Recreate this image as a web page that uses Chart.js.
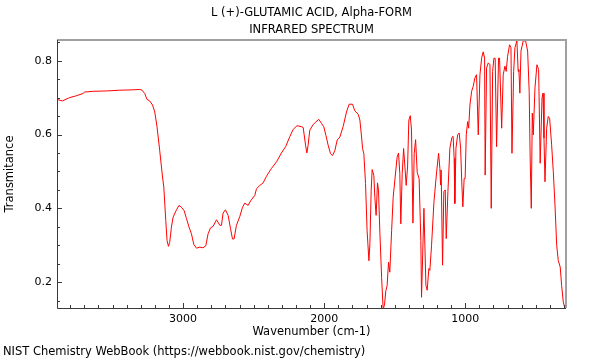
<!DOCTYPE html>
<html><head><meta charset="utf-8">
<script src="https://cdn.jsdelivr.net/npm/chart.js@4/dist/chart.umd.min.js"></script>
<style>html,body{margin:0;padding:0;background:#fff}#wrap{width:600px;height:360px;position:relative}</style>
</head><body><div id="wrap"><canvas id="c" width="600" height="360"></canvas></div>
<script>
const wavenumbers = [
3894,3856,3804,3756,3710,3698,3639,3544,3449,3355,3307,3291,3272,3256,3237,3217,3201,3185,3166,3146,
3137,3123,3114,3104,3095,3083,3071,3047,3029,3012,2993,2976,2958,2941,2924,2905,2882,2859,2839,2823,
2806,2788,2763,2740,2728,2717,2700,2681,2664,2650,2639,2622,2598,
2579,2563,2539,2522,2492,2480,2456,2433,2409,2374,2338,2303,2272,2244,2220,2192,2161,2149,2132,2123,
2114,2102,2078,2059,2038,2019,2003,1988,1972,1955,1941,1924,1908,1889,
1866,1842,1823,1799,1783,1759,1747,1735,1728,1719,1707,1696,1683,1676,1667,1660,1648,1641,1632,1622,
1615,1605,1593,1582,1572,1563,1554,1544,1535,1522,1511,1497,1483,1473,1464,1457,1447,1437,1426,1419,
1409,1400,1390,1381,1371,1362,1352,1341,1327,
1315,1310,1293,1279,1270,1258,1251,1239,1222,1203,1189,1180,1175,1171,1161,1152,1142,1135,1123,1109,
1095,1086,1079,1074,1066,1054,1043,1033,1024,1017,1008,1001,993,983,976,967,955,944,932,920,
908,896,884,873,863,859,849,837,825,816,806,797,788,778,764,
757,742,731,719,710,700,686,676,669,657,648,634,625,620,613,605,589,572,558,547,
540,532,525,518,506,492,480,469,456,449,442,435,423,412,402,388,376,364,352,341,
327,317,305,293,286
];
const transmittance = [
0.695,0.691,0.700,0.705,0.711,0.715,0.717,0.718,0.720,0.721,0.722,0.720,0.711,0.695,0.691,0.680,0.661,0.621,0.557,0.485,
0.458,0.367,0.313,0.297,0.308,0.349,0.376,0.396,0.408,0.403,0.394,0.372,0.349,0.331,0.302,0.292,0.295,0.293,0.299,0.331,
0.347,0.351,0.369,0.354,0.354,0.387,0.396,0.381,0.345,0.317,0.317,0.354,0.378,
0.403,0.414,0.408,0.420,0.435,0.453,0.462,0.469,0.487,0.508,0.526,0.550,0.568,0.594,0.614,0.624,0.621,0.619,0.571,0.550,
0.571,0.612,0.627,0.634,0.641,0.630,0.621,0.598,0.571,0.548,0.543,0.557,0.585,0.593,
0.621,0.661,0.682,0.682,0.664,0.655,0.639,0.593,0.562,0.548,0.467,0.340,0.258,0.304,0.449,0.505,0.489,0.430,0.381,0.469,
0.449,0.331,0.213,0.125,0.141,0.177,0.190,0.254,0.227,0.340,0.430,0.485,0.539,0.550,0.494,0.358,0.494,0.562,0.503,0.462,
0.512,0.639,0.651,0.612,0.360,0.548,0.586,0.498,0.480,
0.313,0.159,0.400,0.191,0.178,0.237,0.232,0.300,0.418,0.499,0.549,0.508,0.463,0.504,0.246,0.445,0.450,0.318,0.445,0.563,
0.592,0.595,0.536,0.413,0.563,0.599,0.604,0.563,0.463,0.404,0.481,0.481,0.599,0.635,0.617,0.680,0.717,0.730,0.753,0.762,
0.599,0.762,0.807,0.824,0.807,0.490,0.780,0.794,0.789,0.400,0.771,0.807,0.806,0.567,0.807,
0.807,0.617,0.762,0.785,0.771,0.812,0.843,0.835,0.549,0.771,0.835,0.854,0.771,0.776,0.712,0.826,0.854,0.853,0.826,0.717,
0.536,0.400,0.658,0.599,0.726,0.789,0.776,0.522,0.699,0.712,0.590,0.472,0.617,0.649,0.644,0.572,0.499,0.409,0.300,0.259,
0.241,0.191,0.146,0.128,0.125
];
const xRange = [286, 3894];
const yRange = [0.13, 0.856];
const xMajorTicks = [3000, 2000, 1000];
const xTickLabels = ['3000', '2000', '1000'];
const xMinorTicks = [3800,3700,3600,3500,3400,3300,3200,3100,2900,2800,2700,2600,2500,2400,2300,2200,2100,1900,1800,1700,1600,1500,1400,1300,1200,1100,900,800,700,600,500,400,300];
const yMajorTicks = [0.2, 0.4, 0.6, 0.8];
const yTickLabels = ['0.2', '0.4', '0.6', '0.8'];
const yMinorTicks = [0.15,0.25,0.3,0.35,0.45,0.5,0.55,0.65,0.7,0.75,0.85];
const titleLines = ['L (+)-GLUTAMIC ACID, Alpha-FORM', 'INFRARED SPECTRUM'];
const xTitle = 'Wavenumber (cm-1)';
const yTitle = 'Transmitance';
const footer = 'NIST Chemistry WebBook (https://webbook.nist.gov/chemistry)';

const FONT = '"DejaVu Sans", sans-serif';

const decor = {
  id: 'decor',
  afterDraw(chart) {
    const ctx = chart.ctx, a = chart.chartArea;
    const xs = chart.scales.x, ys = chart.scales.y;
    ctx.save();
    // top/right frame
    ctx.strokeStyle = '#a0a0a0';
    ctx.lineWidth = 2;
    ctx.beginPath();
    ctx.moveTo(a.left, a.top); ctx.lineTo(a.right, a.top); ctx.lineTo(a.right, a.bottom);
    ctx.stroke();
    // left/bottom axes
    ctx.strokeStyle = '#3a3a3a';
    ctx.lineWidth = 1;
    ctx.beginPath();
    ctx.moveTo(a.left + 0.5, a.top); ctx.lineTo(a.left + 0.5, a.bottom + 0.5); ctx.lineTo(a.right, a.bottom + 0.5);
    ctx.stroke();
    // ticks
    ctx.beginPath();
    xMajorTicks.forEach(v => { const p = Math.round(xs.getPixelForValue(v)) + 0.5; ctx.moveTo(p, a.bottom); ctx.lineTo(p, a.bottom - 5); });
    xMinorTicks.forEach(v => { const p = Math.round(xs.getPixelForValue(v)) + 0.5; ctx.moveTo(p, a.bottom); ctx.lineTo(p, a.bottom - 3); });
    yMajorTicks.forEach(v => { const p = Math.round(ys.getPixelForValue(v)) + 0.5; ctx.moveTo(a.left, p); ctx.lineTo(a.left + 5, p); });
    yMinorTicks.forEach(v => { const p = Math.round(ys.getPixelForValue(v)) + 0.5; ctx.moveTo(a.left, p); ctx.lineTo(a.left + 3, p); });
    ctx.stroke();
    // tick labels
    ctx.fillStyle = '#000';
    ctx.font = '11px ' + FONT;
    ctx.textAlign = 'center'; ctx.textBaseline = 'middle';
    xMajorTicks.forEach((v, i) => ctx.fillText(xTickLabels[i], xs.getPixelForValue(v), a.bottom + 11));
    ctx.textAlign = 'right';
    yMajorTicks.forEach((v, i) => ctx.fillText(yTickLabels[i], a.left - 5, ys.getPixelForValue(v)));
    // titles
    ctx.font = '11.5px ' + FONT;
    ctx.textAlign = 'center';
    const cx = (a.left + a.right) / 2;
    ctx.fillText(titleLines[0], cx, 13);
    ctx.fillText(titleLines[1], cx, 30);
    ctx.fillText(xTitle, cx, a.bottom + 24);
    ctx.save();
    ctx.translate(10, (a.top + a.bottom) / 2);
    ctx.rotate(-Math.PI / 2);
    ctx.fillText(yTitle, 0, 0);
    ctx.restore();
    ctx.textAlign = 'left';
    ctx.fillText(footer, 3, 352);
    ctx.restore();
  }
};

new Chart(document.getElementById('c'), {
  type: 'line',
  data: {
    datasets: [{
      data: wavenumbers.map((w, i) => ({ x: w, y: transmittance[i] })),
      borderColor: 'rgb(255,0,0)',
      borderWidth: 1,
      pointRadius: 0,
      tension: 0,
      fill: false
    }]
  },
  options: {
    responsive: false,
    animation: false,
    devicePixelRatio: 1,
    layout: { padding: { left: 57, right: 34, top: 40, bottom: 52 } },
    plugins: { legend: { display: false }, tooltip: { enabled: false }, title: { display: false } },
    scales: {
      x: { type: 'linear', reverse: true, min: xRange[0], max: xRange[1], display: false },
      y: { type: 'linear', min: yRange[0], max: yRange[1], display: false }
    }
  },
  plugins: [decor]
});
</script>
</body></html>
